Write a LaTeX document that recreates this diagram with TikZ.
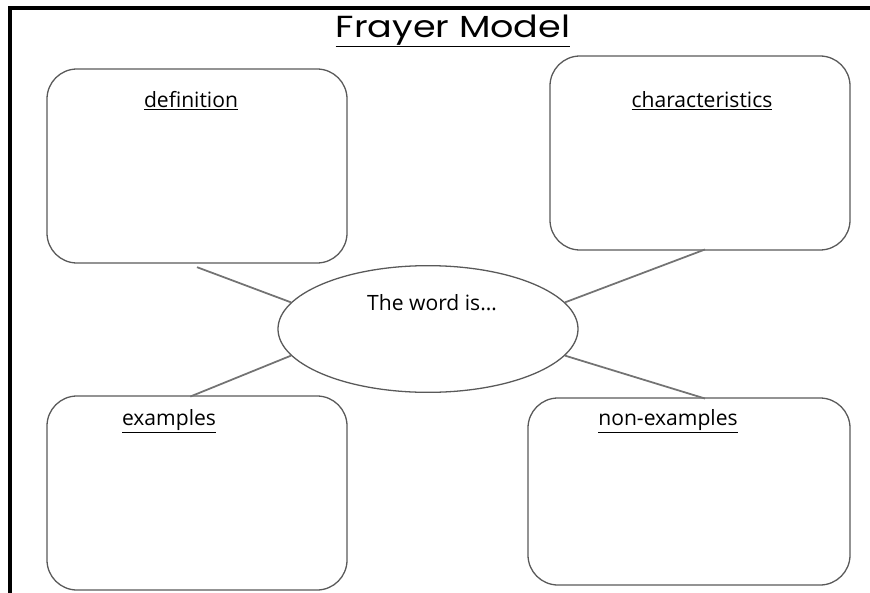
\documentclass[tikz,border=0pt]{standalone}
\usepackage{fontspec}
\setmainfont{Open Sans}
\newfontfamily\titlefont{Poppins}
\usetikzlibrary{shapes.geometric}

\tikzset{
  quad/.style={draw=black!65,line width=1.1pt,rounded corners=0.9cm,
    minimum width=9cm,minimum height=5.82cm,inner sep=0pt},
  quadlabel/.style={font=\fontsize{18}{21}\selectfont,inner sep=0pt},
  spoke/.style={draw=black!55,line width=1.5pt}
}

\begin{document}
\begin{tikzpicture}[x=0.03cm,y=-0.03cm]
    \useasboundingbox (0,0) rectangle (870,593);
    \draw[line width=2.6pt] (870,8) -- (10,8) -- (10,593);
    \node[inner sep=0pt,font=\titlefont\fontsize{26}{30}\selectfont]
      (title) at (453,31) {\scalebox{1.2}[1]{\underline{Frayer Model}}};
    % the four boxes
    \node[quad] (defbox) at (197,166) {};
    \node[quad] (charbox) at (700,153) {};
    \node[quad] (exbox) at (197,493) {};
    \node[quad,minimum width=9.66cm,minimum height=5.61cm] (nonexbox) at (689,491.5) {};
    \node[quadlabel] (defl) at (191,101) {\underline{definition}};
    \node[quadlabel] (charl) at (702,101) {\underline{characteristics}};
    \node[quadlabel] (exl) at (169,421) {\underline{examples}};
    \node[quadlabel] (nonexl) at (668,421) {\underline{non-examples}};
    % the word in the middle
    \node[ellipse,draw=black!65,line width=1.1pt,minimum width=9cm,
      minimum height=3.8cm,inner sep=0pt] (word) at (428,329) {};
    \node[quadlabel] (wordl) at (432,303) {The word is…};
    \draw[spoke] ([yshift=-3pt]defbox.south) -- (word.169);
    \draw[spoke] ([xshift=-0.2cm,yshift=-1pt]exbox.north) -- (word.191);
    \draw[spoke] ([xshift=0.15cm,yshift=1pt]charbox.south) -- (word.11);
    \draw[spoke] ([xshift=0.48cm,yshift=-1pt]nonexbox.north) -- (word.-11);
  \end{tikzpicture}
\end{document}
